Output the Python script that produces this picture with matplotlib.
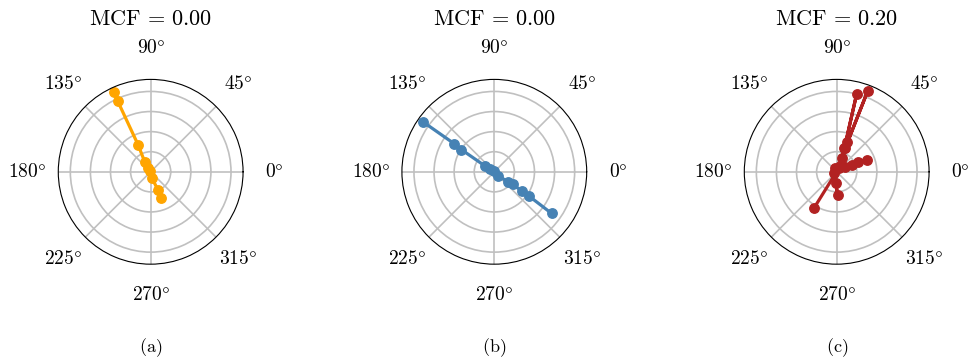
import numpy as np
import matplotlib
matplotlib.use('Agg')
import matplotlib.pyplot as plt

plt.rcParams['mathtext.fontset'] = 'cm'
plt.rcParams['font.family'] = 'serif'
plt.rcParams['font.serif'] = ['cmr10', 'DejaVu Serif']

# --- data (radius, angle in degrees) ---
titles = [r'$\mathrm{MCF}\,=\,0.00$', r'$\mathrm{MCF}\,=\,0.00$', r'$\mathrm{MCF}\,=\,0.20$']
captions = [r'$\mathrm{(a)}$', r'$\mathrm{(b)}$', r'$\mathrm{(c)}$']
colors = ['orange', 'steelblue', 'firebrick']

r_a = [1.09, 0.976, 0.371, 0.142, 0.06, 0.01, 0.085, 0.246, 0.347]
th_a = [115, 115, 115, 121, 131, 115, 282, 292, 292]

r_b = [1.085, 0.609, 0.493, 0.136, 0.061, 0.01, 0.073, 0.214, 0.278, 0.417, 0.528, 0.882]
th_b = [145, 145, 146, 148, 150, 145, 315, 324, 326, 325, 325, 324]

r_c = [0.529, 0.05, 0.309, 1.079, 0.388, 0.18, 0.998, 0.309, 0.08,
       0.204, 0.297, 0.403, 0.12, 0.03, 0.146, 0.29, 0.05]
th_c = [238, 60, 70, 69, 70, 68, 75.6, 72, 60,
        24, 25, 22, 30, 200, 265, 272, 120]

series = [(r_a, th_a), (r_b, th_b), (r_c, th_c)]

theta_ticks = [0, 45, 90, 135, 180, 225, 270, 315]
theta_labels = [r'$%d\degree$' % t for t in theta_ticks]
r_ticks = [0.25, 0.5, 0.75, 1.0]
r_max = 1.15

fig = plt.figure(figsize=(9.68, 3.57), dpi=100)
lefts = [0.0602, 0.4152, 0.7689]

for i, (r, th) in enumerate(series):
    ax = fig.add_axes([lefts[i], 0.26, 0.1909, 0.5176], projection='polar')
    ax.plot(np.deg2rad(th), r, '-o', color=colors[i], lw=2.3, ms=6.8)
    ax.set_ylim(0, r_max)
    ax.set_yticks(r_ticks)
    ax.set_yticklabels([])
    ax.set_thetagrids(theta_ticks, labels=theta_labels, fontsize=14)
    ax.tick_params(axis='x', pad=12)
    ax.grid(True, color='#c0c0c0', lw=1.2)
    ax.spines['polar'].set_linewidth(0.8)
    ax.set_title(titles[i], fontsize=16, y=1.294, pad=0)
    ax.text(0.5, -0.449, captions[i], transform=ax.transAxes,
            ha='center', va='center', fontsize=13)

fig.savefig('out.png', dpi=100)
